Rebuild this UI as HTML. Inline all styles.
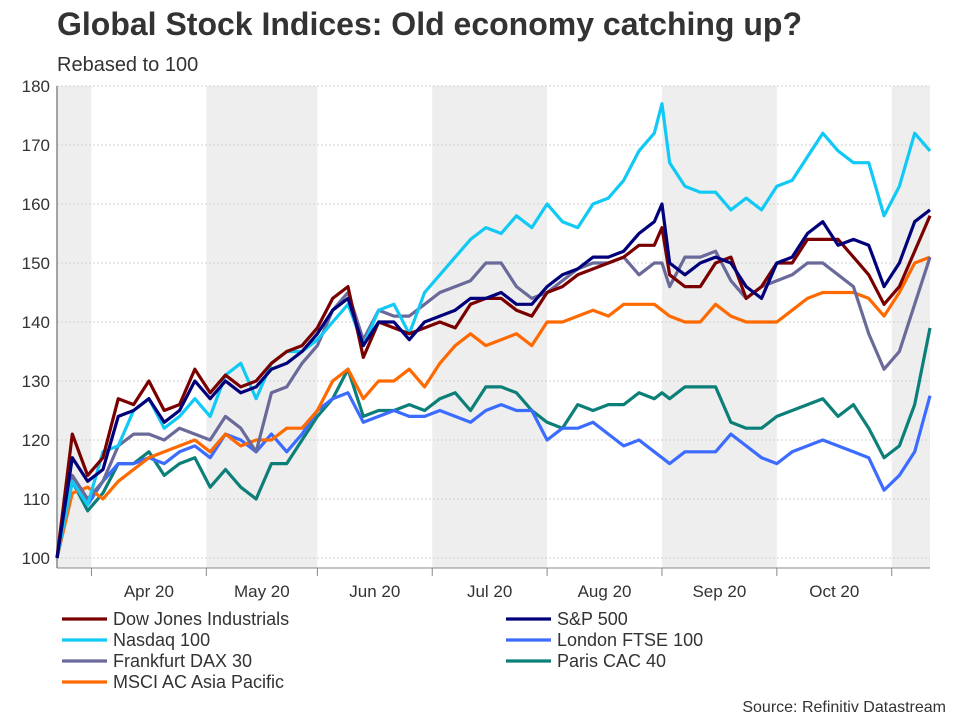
<!DOCTYPE html>
<html><head><meta charset="utf-8">
<style>
body{margin:0;background:#fff;font-family:"Liberation Sans",sans-serif;}
svg text{font-family:"Liberation Sans",sans-serif;}
</style></head>
<body>
<svg id="chart" width="960" height="720" viewBox="0 0 960 720" xmlns="http://www.w3.org/2000/svg">
<text x="57" y="35" font-size="32" font-weight="bold" fill="#333">Global Stock Indices: Old economy catching up?</text>
<text x="57" y="71" font-size="20" fill="#333">Rebased to 100</text>
<g id="bands"></g><g id="grid"></g><g id="axes"></g><g id="series"></g><g id="legend"></g>
<text x="946" y="712" font-size="16" fill="#333" text-anchor="end">Source: Refinitiv Datastream</text>
</svg>
<script>
const days=[0,4,8,12,16,20,24,28,32,36,40,44,48,52,56,60,64,68,72,76,80,84,88,92,96,100,104,108,112,116,120,124,128,132,136,140,144,148,152,156,158,160,164,168,172,176,180,184,188,192,196,200,204,208,212,216,220,224,228];
const yTicks=[100,110,120,130,140,150,160,170,180];
const monthLabels=["Apr 20","May 20","Jun 20","Jul 20","Aug 20","Sep 20","Oct 20"];
const monthStarts=[9,39,68,98,128,158,188,218];
const dow=[100,121,114,117,127,126,130,125,126,132,128,131,129,130,133,135,136,139,144,146,134,140,139,138,139,140,139,143,144,144,142,141,145,146,148,149,150,151,153,153,156,148,146,146,150,151,144,146,150,150,154,154,154,151,148,143,146,152,158];
const sp=[100,117,113,115,124,125,127,123,125,130,127,130,128,129,132,133,135,138,142,144,136,140,140,137,140,141,142,144,144,145,143,143,146,148,149,151,151,152,155,157,160,150,148,150,151,150,146,144,150,151,155,157,153,154,153,146,150,157,159];
const ndx=[100,113,109,118,119,125,127,122,124,127,124,131,133,127,133,135,135,137,140,143,136,142,143,138,145,148,151,154,156,155,158,156,160,157,156,160,161,164,169,172,177,167,163,162,162,159,161,159,163,164,168,172,169,167,167,158,163,172,169];
const ftse=[100,113,109,113,116,116,117,116,118,119,117,121,120,118,121,118,121,125,127,128,123,124,125,124,124,125,124,123,125,126,125,125,120,122,122,123,121,119,120,118,117,116,118,118,118,121,119,117,116,118,119,120,119,118,117,111.5,114,118,127.5];
const dax=[100,114,110,113,119,121,121,120,122,121,120,124,122,118,128,129,133,136,142,145,137,142,141,141,143,145,146,147,150,150,146,144,145,147,149,150,150,151,148,150,150,146,151,151,152,147,144,146,147,148,150,150,148,146,138,132,135,143,151];
const cac=[100,113,108,111,116,116,118,114,116,117,112,115,112,110,116,116,120,124,127,132,124,125,125,126,125,127,128,125,129,129,128,125,123,122,126,125,126,126,128,127,128,127,129,129,129,123,122,122,124,125,126,127,124,126,122,117,119,126,139];
const asia=[100,111,112,110,113,115,117,118,119,120,118,121,119,120,120,122,122,125,130,132,127,130,130,132,129,133,136,138,136,137,138,136,140,140,141,142,141,143,143,143,142,141,140,140,143,141,140,140,140,142,144,145,145,145,144,141,145,150,151];
const NS="http://www.w3.org/2000/svg";
const X0=57,X1=930,D0=0,D1=228;
const xS=d=>X0+(d-D0)*(X1-X0)/(D1-D0);
const yS=v=>558-(v-100)*(558-86)/80;
function mk(tag,attrs,parent){const e=document.createElementNS(NS,tag);for(const k in attrs)e.setAttribute(k,attrs[k]);parent.appendChild(e);return e;}
const bands=document.getElementById('bands');
const shadeRanges=[[D0,monthStarts[0]],[monthStarts[1],monthStarts[2]],[monthStarts[3],monthStarts[4]],[monthStarts[5],monthStarts[6]],[monthStarts[7],D1]];
shadeRanges.forEach(r=>{const e=mk('rect',{x:xS(r[0]),y:86,width:xS(r[1])-xS(r[0]),height:482,fill:'#eeeeee'},bands);

});
const grid=document.getElementById('grid');
yTicks.forEach(t=>{const l=mk('line',{x1:X0,x2:X1,y1:yS(t),y2:yS(t),stroke:'#d0d0d0','stroke-dasharray':'2,2','stroke-width':1},grid);


const tx=mk('text',{x:50,y:yS(t)+6,'font-size':17,fill:'#333','text-anchor':'end'},grid);tx.textContent=t;

});
const axes=document.getElementById('axes');
const ya=mk('line',{x1:X0,x2:X0,y1:86,y2:568,stroke:'#888','stroke-width':1.5},axes);


const xa=mk('line',{x1:X0,x2:X1,y1:568,y2:568,stroke:'#888','stroke-width':1},axes);


monthStarts.forEach((m,i)=>{const t=mk('line',{x1:xS(m),x2:xS(m),y1:568,y2:576,stroke:'#888'},axes);


if(i<monthLabels.length){const tx=mk('text',{x:(xS(m)+xS(monthStarts[i+1]))/2,y:597,'font-size':17,fill:'#333','text-anchor':'middle'},axes);tx.textContent=monthLabels[i];

}});
const seriesDefs=[["Dow Jones Industrials",dow,"#7a0000"],["S&P 500",sp,"#00007a"],["Nasdaq 100",ndx,"#11c9f5"],["London FTSE 100",ftse,"#3c6cff"],["Frankfurt DAX 30",dax,"#6a6a9a"],["Paris CAC 40",cac,"#0b7f78"],["MSCI AC Asia Pacific",asia,"#ff6a00"]];
const sg=document.getElementById('series');
const drawOrder=[5,3,6,4,2,0,1];
drawOrder.forEach(i=>{const s=seriesDefs[i];const pts=s[1].map((v,j)=>xS(days[j])+','+yS(v)).join(' ');
const p=mk('polyline',{points:pts,fill:'none',stroke:s[2],'stroke-width':3.2,'stroke-linejoin':'round'},sg);

});
const lg=document.getElementById('legend');
seriesDefs.forEach((s,i)=>{const col=i%2,row=Math.floor(i/2);const x=62+col*444,y=619+row*21;
const g=mk('g',{},lg);


mk('line',{x1:x,x2:x+45,y1:y,y2:y,stroke:s[2],'stroke-width':3.2},g);
const t=mk('text',{x:x+51,y:y+6,'font-size':18,fill:'#333'},g);t.textContent=s[0];});
</script>
</body></html>
